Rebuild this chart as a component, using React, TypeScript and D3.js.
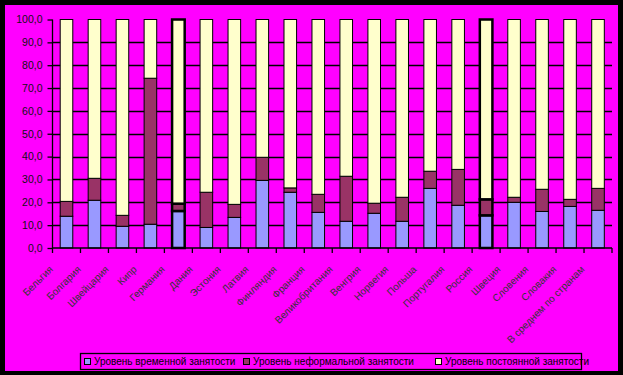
import * as d3 from 'd3';
import { useEffect, useRef } from 'react';

const countries = [
  'Бельгия', 'Болгария', 'Швейцария', 'Кипр', 'Германия', 'Дания', 'Эстония',
  'Латвия', 'Финляндия', 'Франция', 'Великобритания', 'Венгрия', 'Норвегия',
  'Польша', 'Португалия', 'Россия', 'Швеция', 'Словения', 'Словакия',
  'В среднем по странам',
];
const temporary = [13.9, 20.9, 9.5, 10.4, 16.2, 9.0, 13.4, 29.6, 24.4, 15.6, 11.7, 15.2, 11.7, 26.1, 18.7, 14.3, 20.0, 16.0, 18.2, 16.5];
const informal = [6.5, 9.6, 4.8, 63.9, 3.2, 15.4, 5.7, 10.1, 1.9, 7.9, 19.7, 4.4, 10.5, 7.5, 15.7, 7.0, 2.2, 9.7, 3.1, 9.6];
const permanent = [79.6, 69.5, 85.7, 25.7, 80.6, 75.6, 80.9, 60.3, 73.7, 76.5, 68.6, 80.4, 77.8, 66.4, 65.6, 78.7, 77.8, 74.3, 78.7, 73.9];
const highlighted = ['Германия', 'Россия'];
const yTicks = [0, 10, 20, 30, 40, 50, 60, 70, 80, 90, 100];

const seriesNames = ['Уровень временной занятости', 'Уровень неформальной занятости', 'Уровень постоянной занятости'];
const seriesColors = ['#9999FF', '#993366', '#FFFFCC'];

const App = () => {
  const svgRef = useRef(null);

  useEffect(() => {
    const width = 623;
    const height = 375;
    const font = '"Liberation Sans", Arial, sans-serif';

    const svg = d3.select(svgRef.current).attr('width', width).attr('height', height);
    svg.selectAll('*').remove();

    // frame
    svg.append('rect').attr('width', width).attr('height', height).attr('fill', '#000');
    svg.append('rect').attr('x', 5).attr('y', 5).attr('width', 613).attr('height', 366).attr('fill', '#FF00FF');

    const x = d3.scaleBand().domain(countries).range([52.5, 612]).paddingInner(0.55).paddingOuter(0.275);
    const y = d3.scaleLinear().domain([0, 100]).range([248, 19.5]);

    const rows = countries.map((c, i) => ({ c, t: temporary[i], n: informal[i], p: permanent[i] }));
    const stack = d3.stack().keys(['t', 'n', 'p']);
    const layers = stack(rows);

    // grid lines
    svg.append('g')
      .selectAll('line')
      .data(yTicks.filter((v) => v > 0 && v < 100))
      .enter()
      .append('line')
      .attr('x1', 52.5)
      .attr('x2', 612)
      .attr('y1', (d) => Math.round(y(d)) + 0.5)
      .attr('y2', (d) => Math.round(y(d)) + 0.5)
      .attr('stroke', '#000')
      .attr('stroke-width', 1.3);

    // bars
    layers.forEach((layer, li) => {
      svg.append('g')
        .selectAll('rect')
        .data(layer)
        .enter()
        .append('rect')
        .attr('x', (d) => x(d.data.c))
        .attr('width', x.bandwidth())
        .attr('y', (d) => y(d[1]))
        .attr('height', (d) => y(d[0]) - y(d[1]))
        .attr('fill', seriesColors[li])
        .attr('stroke', '#000')
        .attr('stroke-width', (d) => (highlighted.includes(d.data.c) ? 2.5 : 1));
    });

    // axes
    const yAxis = d3.axisLeft(y).tickValues(yTicks).tickSize(5).tickFormat((d) => d3.format('.1f')(d).replace('.', ','));
    const gy = svg.append('g').attr('transform', 'translate(52.5,0)').call(yAxis);
    gy.select('.domain').attr('stroke', '#000').attr('stroke-width', 1.3).attr('d', `M0,${y(100)}V${y(0)}`);
    gy.selectAll('.tick line').attr('stroke', '#000').attr('stroke-width', 1.3);
    gy.selectAll('.tick text')
      .attr('x', -10)
      .attr('font-family', font)
      .attr('font-size', 10.5)
      .attr('fill', '#111');

    svg.append('line')
      .attr('x1', 52.5).attr('x2', 612)
      .attr('y1', y(0)).attr('y2', y(0))
      .attr('stroke', '#000').attr('stroke-width', 1.5);

    const step = x.step();
    svg.append('g')
      .selectAll('line')
      .data(d3.range(countries.length + 1))
      .enter()
      .append('line')
      .attr('x1', (d) => 52.5 + d * step)
      .attr('x2', (d) => 52.5 + d * step)
      .attr('y1', y(0))
      .attr('y2', y(0) + 5)
      .attr('stroke', '#000')
      .attr('stroke-width', 1.3);

    // category labels
    svg.append('g')
      .selectAll('text')
      .data(countries)
      .enter()
      .append('text')
      .attr('transform', (d) => `translate(${x(d) + x.bandwidth() / 2 - 13},${y(0) + 22}) rotate(-45)`)
      .attr('text-anchor', 'end')
      .attr('font-family', font)
      .attr('font-size', 10)
      .attr('fill', '#333')
      .text((d) => d);

    // legend
    const lg = svg.append('g');
    lg.append('rect')
      .attr('x', 80.5).attr('y', 353.5).attr('width', 501).attr('height', 16)
      .attr('fill', 'none').attr('stroke', '#000').attr('stroke-width', 1.3);
    const legendX = [84, 243, 435];
    seriesNames.forEach((name, i) => {
      lg.append('rect')
        .attr('x', legendX[i] + 0.5).attr('y', 358.5).attr('width', 6).attr('height', 6)
        .attr('fill', seriesColors[i]).attr('stroke', '#000').attr('stroke-width', 1);
      lg.append('text')
        .attr('x', legendX[i] + 10).attr('y', 365)
        .attr('font-family', font).attr('font-size', 10).attr('fill', '#000')
        .text(name);
    });

    return () => {
      svg.selectAll('*').remove();
    };
  }, []);

  return (
    <div style={{ position: 'absolute', left: 0, top: 0 }}>
      <svg ref={svgRef} style={{ display: 'block' }} />
    </div>
  );
};

export default App;
